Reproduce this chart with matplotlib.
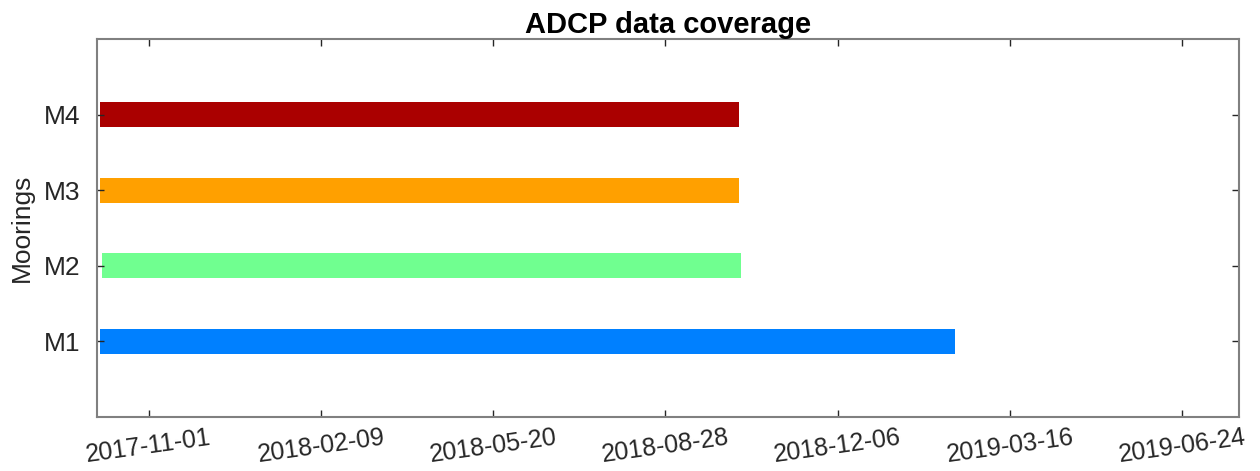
import datetime as dt

import numpy as np
import matplotlib
matplotlib.use('Agg')
import matplotlib.pyplot as plt
import matplotlib.dates as mdates

plt.rcParams['font.family'] = ['Liberation Sans', 'DejaVu Sans']

# coverage of each mooring
moorings = ['M1', 'M2', 'M3', 'M4']
starts = ['2017-10-04', '2017-10-05', '2017-10-04', '2017-10-04']
ends = ['2019-02-12', '2018-10-11', '2018-10-10', '2018-10-10']
colors = ['#0080ff', '#70ff90', '#ffa000', '#aa0000']

tick_dates = ['2017-11-01', '2018-02-09', '2018-05-20', '2018-08-28',
              '2018-12-06', '2019-03-16', '2019-06-24']
xlims = ['2017-10-02', '2019-07-27']


def to_num(s):
    return mdates.date2num(dt.datetime.strptime(s, '%Y-%m-%d'))


fig = plt.figure(figsize=(12.6, 4.71), dpi=100)
ax = fig.add_axes([97 / 1260, 1 - 417 / 471, (1239 - 97) / 1260, (417 - 39) / 471])

y = np.arange(1, len(moorings) + 1)
left = [to_num(s) for s in starts]
width = [to_num(e) - to_num(s) for s, e in zip(starts, ends)]
ax.barh(y, width, left=left, height=0.33, color=colors, linewidth=0)

ax.set_ylim(0, 5)
ax.set_yticks(y)
ax.set_yticklabels(moorings)
ax.set_xlim(to_num(xlims[0]), to_num(xlims[1]))
ax.set_xticks([to_num(d) for d in tick_dates])
ax.set_xticklabels(tick_dates, rotation=8, ha='center')

ax.set_ylabel('Moorings', fontsize=19, color='#262626', labelpad=7)
ax.set_title('ADCP data coverage', fontsize=21, fontweight='bold', pad=4)

ax.tick_params(direction='in', length=5, width=1, top=True, right=True,
               labelcolor='#262626', color='#262626')
ax.tick_params(axis='x', labelsize=18, pad=6)
ax.tick_params(axis='y', labelsize=19, pad=12)
for sp in ax.spines.values():
    sp.set_color('#808080')
    sp.set_linewidth(1.5)

fig.savefig('out.png', dpi=100)
